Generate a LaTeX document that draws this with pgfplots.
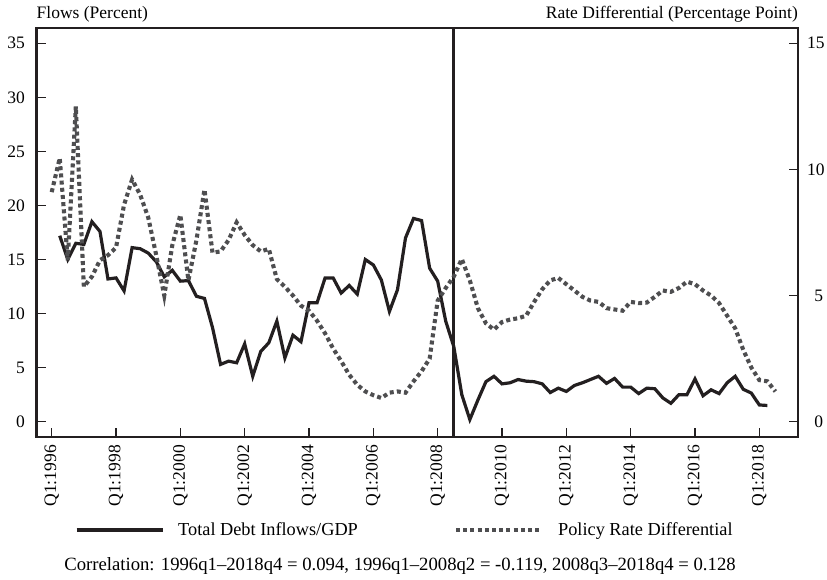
\documentclass[border=0pt]{standalone}
\usepackage{fontspec}
\setmainfont{Liberation Serif}
\usepackage{pgfplots}
\pgfplotsset{compat=1.18}
\usepackage{pgfplotstable}

\definecolor{lineblack}{RGB}{35,31,32}
\definecolor{dotgray}{RGB}{78,78,80}

% Total debt inflows / GDP (percent), quarter index 0 = 1996Q1
\pgfplotstableread{
q v
1 17.2
2 15.0
3 16.5
4 16.4
5 18.5
6 17.6
7 13.2
8 13.3
9 12.1
10 16.1
11 16.0
12 15.6
13 14.8
14 13.4
15 14.0
16 13.0
17 13.05
18 11.6
19 11.4
20 8.7
21 5.3
22 5.6
23 5.45
24 7.2
25 4.2
26 6.5
27 7.3
28 9.3
29 5.9
30 8.0
31 7.4
32 11.0
33 11.0
34 13.3
35 13.3
36 11.9
37 12.6
38 11.8
39 15.0
40 14.5
41 13.1
42 10.2
43 12.2
44 17.0
45 18.8
46 18.6
47 14.2
48 13.0
49 9.3
50 6.96
51 2.5
52 0.2
53 2.0
54 3.7
55 4.2
56 3.5
57 3.6
58 3.9
59 3.75
60 3.7
61 3.5
62 2.7
63 3.1
64 2.8
65 3.35
66 3.6
67 3.9
68 4.2
69 3.55
70 4.0
71 3.2
72 3.2
73 2.6
74 3.1
75 3.05
76 2.2
77 1.7
78 2.5
79 2.5
80 3.95
81 2.4
82 2.95
83 2.6
84 3.6
85 4.2
86 3.0
87 2.65
88 1.55
89 1.5
}\flows

% Policy rate differential (percentage point)
\pgfplotstableread{
q v
0 9.1
1 10.45
2 6.4
3 12.5
4 5.35
5 5.75
6 6.4
7 6.6
8 6.9
9 8.6
10 9.6
11 9.0
12 8.1
13 6.6
14 5.0
15 7.0
16 8.2
17 5.6
18 7.2
19 9.2
20 6.7
21 6.75
22 7.2
23 7.9
24 7.4
25 7.0
26 6.75
27 6.85
28 5.65
29 5.35
30 5.0
31 4.6
32 4.4
33 4.0
34 3.5
35 2.9
36 2.4
37 1.86
38 1.46
39 1.2
40 1.05
41 0.94
42 1.15
43 1.2
44 1.15
45 1.6
46 2.0
47 2.5
48 4.8
49 5.3
50 5.75
51 6.45
52 5.6
53 4.5
54 3.9
55 3.65
56 3.95
57 4.05
58 4.1
59 4.2
60 4.75
61 5.25
62 5.6
63 5.7
64 5.45
65 5.2
66 4.95
67 4.8
68 4.75
69 4.5
70 4.45
71 4.4
72 4.75
73 4.7
74 4.72
75 4.95
76 5.2
77 5.15
78 5.3
79 5.55
80 5.45
81 5.2
82 5.0
83 4.7
84 4.2
85 3.7
86 2.85
87 2.15
88 1.65
89 1.6
90 1.2
}\rate

\pgfplotsset{
  common/.style={
    at={(36.5bp,143bp)}, anchor=south west,
    width=761.5bp, height=409bp, scale only axis,
    xmin=-1.89, xmax=92.81,
    tick align=inside, major tick length=9bp,
    axis line style={line width=2.2bp, lineblack},
    every tick/.style={line width=1.2bp, lineblack},
    /pgf/number format/assume math mode=true,
    font=\fontsize{17.5bp}{21bp}\selectfont,
    legend style={draw=none, fill=none, inner sep=0pt, outer sep=0pt,
      font=\fontsize{18.3bp}{22bp}\selectfont,
      nodes={inner sep=0pt},
      /tikz/every odd column/.append style={column sep=14bp}},
    legend image code/.code={\draw[##1] (0bp,0bp) -- (86bp,0bp);},
  },
}

\begin{document}
\fontsize{17.5bp}{21bp}\selectfont
\begin{tikzpicture}
\useasboundingbox (0,0) rectangle (827bp,580bp);
\begin{axis}[common, name=main,
  ymin=-1.415, ymax=36.415,
  xtick={0,8,...,88},
  xticklabels={Q1:1996,Q1:1998,Q1:2000,Q1:2002,Q1:2004,Q1:2006,Q1:2008,Q1:2010,Q1:2012,Q1:2014,Q1:2016,Q1:2018},
  xtick pos=left,
  xticklabel style={rotate=90, anchor=east, inner sep=0pt},
  xticklabel shift=8bp,
  ytick={0,5,...,35}, ytick pos=left,
  yticklabel style={inner sep=0pt},
  yticklabel shift=11.5bp,
  legend style={at={(0.0506,-0.2274)}, anchor=west},
]
\addplot[lineblack, line width=3.2bp, line join=miter, miter limit=4] table[x=q, y=v] {\flows};
\addlegendentry{Total Debt Inflows/GDP}
\addplot[lineblack, line width=3.5bp, forget plot] coordinates {(49.95,-1.415) (49.95,36.415)};
\end{axis}
\begin{axis}[common,
  ymin=-0.6064, ymax=15.6064,
  axis x line=none, axis y line*=right,
  ytick={0,5,10,15}, ytick pos=right,
  yticklabel style={inner sep=0pt, anchor=west, text width=16bp, align=right},
  yticklabel shift=9bp,
  legend style={at={(0.5483,-0.2274)}, anchor=west},
]
\addplot[dotgray, line width=4.1bp, dash pattern=on 4bp off 3.2bp] table[x=q, y=v] {\rate};
\addlegendentry{Policy Rate Differential}
\end{axis}
\node[anchor=base west, inner sep=0pt] at ([yshift=9.7bp]main.north west) {Flows (Percent)};
\node[anchor=base east, inner sep=0pt] at ([yshift=9.7bp]main.north east) {Rate Differential (Percentage Point)};
\node[anchor=center, inner sep=0pt, font=\fontsize{18.7bp}{22bp}\selectfont] at (400bp,14bp) {Correlation: 1996q1--2018q4 = 0.094, 1996q1--2008q2 = -0.119, 2008q3--2018q4 = 0.128};
\end{tikzpicture}
\end{document}
